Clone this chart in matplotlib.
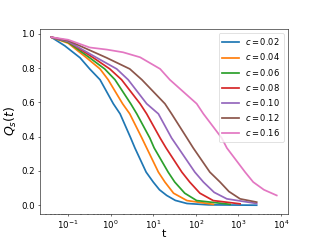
import matplotlib
matplotlib.use("Agg")
import matplotlib.pyplot as plt

# values
c_labels = ["0.02", "0.04", "0.06", "0.08", "0.10", "0.12", "0.16"]

t_002 = [0.04, 0.083, 0.19, 0.32, 0.56, 1.15, 1.66, 2.95, 3.7, 6.8, 10, 14, 20.7, 33, 62, 200, 2700]
q_002 = [0.98, 0.93, 0.86, 0.795, 0.732, 0.592, 0.533, 0.392, 0.334, 0.193, 0.135, 0.09, 0.057, 0.028, 0.01, 0.002, 0.0]

t_004 = [0.04, 0.1, 0.27, 0.56, 0.87, 1.9, 2.8, 5.4, 7.0, 13.2, 18.8, 30, 62, 260]
q_004 = [0.98, 0.945, 0.86, 0.795, 0.732, 0.592, 0.533, 0.392, 0.334, 0.193, 0.135, 0.07, 0.027, 0.005]

t_006 = [0.04, 0.1, 0.32, 0.72, 1.26, 2.95, 4.1, 8.3, 10.5, 22.4, 32, 55, 105, 640]
q_006 = [0.98, 0.95, 0.86, 0.795, 0.732, 0.592, 0.533, 0.392, 0.334, 0.193, 0.135, 0.07, 0.027, 0.005]

t_008 = [0.04, 0.1, 0.39, 0.95, 1.8, 4.9, 7.0, 14.5, 20, 47, 72, 125, 257, 1100]
q_008 = [0.98, 0.955, 0.86, 0.795, 0.732, 0.592, 0.533, 0.392, 0.334, 0.193, 0.135, 0.07, 0.027, 0.008]

t_010 = [0.04, 0.1, 0.47, 1.38, 2.57, 7.0, 13.2, 27, 39, 95, 151, 270, 537, 2700]
q_010 = [0.98, 0.955, 0.86, 0.795, 0.732, 0.592, 0.533, 0.392, 0.334, 0.193, 0.135, 0.075, 0.037, 0.01]

t_012 = [0.04, 0.1, 0.8, 2.8, 5.4, 18.8, 27, 62, 87, 214, 372, 600, 1100, 2700]
q_012 = [0.98, 0.96, 0.86, 0.795, 0.732, 0.592, 0.533, 0.392, 0.334, 0.193, 0.135, 0.08, 0.037, 0.018]

t_016 = [0.04, 0.1, 0.32, 0.8, 1.95, 4.9, 14.5, 24.5, 105, 151, 407, 537, 1445, 2240, 4000, 8000]
q_016 = [0.98, 0.965, 0.92, 0.908, 0.892, 0.863, 0.795, 0.732, 0.592, 0.533, 0.392, 0.334, 0.193, 0.135, 0.09, 0.057]

times = [t_002, t_004, t_006, t_008, t_010, t_012, t_016]
overlaps = [q_002, q_004, q_006, q_008, q_010, q_012, q_016]

fig, ax = plt.subplots(figsize=(6.4, 4.8), dpi=50)

for t, q, c in zip(times, overlaps, c_labels):
    ax.plot(t, q, linewidth=2.5, label=f"$c = {c}$")

ax.set_xscale("log")
ax.set_xlabel("t", fontsize=16, labelpad=-2)
ax.set_ylabel("$Q_s(t)$", fontsize=18)
ax.set_yticks([0.0, 0.2, 0.4, 0.6, 0.8, 1.0])
ax.tick_params(labelsize=12.5)
ax.legend(loc="upper right", fontsize=12)

plt.savefig("out.png", dpi=50)
